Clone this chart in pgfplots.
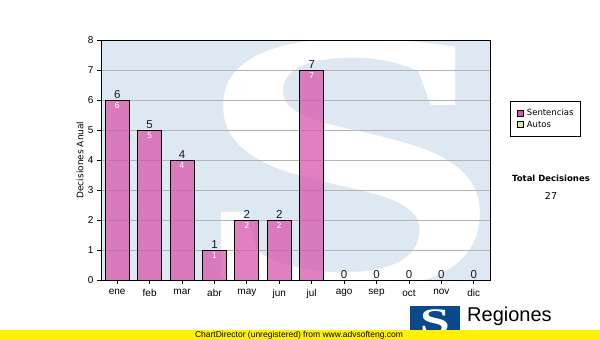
\documentclass[border=0pt]{standalone}
\usepackage{pgfplots}
\pgfplotsset{compat=1.18}
\usepackage{pgfplotstable}
\usepackage{fontspec}
\setmainfont{Liberation Sans}
\newfontfamily\dejavu{DejaVu Sans}
\newfontfamily\serifS{Liberation Serif}
\definecolor{bgblue}{RGB}{222,232,242}
\definecolor{barpink}{RGB}{214,86,171}
\definecolor{autosgreen}{RGB}{216,232,160}
\definecolor{gridgrey}{RGB}{180,180,180}
\definecolor{labcol}{RGB}{25,25,45}
\definecolor{logoblue}{RGB}{12,72,140}

\pgfplotstableread{
x y
0 6
1 5
2 4
3 1
4 2
5 2
6 7
7 0
8 0
9 0
10 0
11 0
}\datatable
\pgfplotstableread{
x y
0 6
1 5
2 4
3 1
4 2
5 2
6 7
}\innertable

\begin{document}
\begin{tikzpicture}
\path[use as bounding box] (0pt,0pt) rectangle (600pt,-340pt);
\begin{scope}
\clip (101pt,-40pt) rectangle (490pt,-280pt);
\fill[bgblue] (101pt,-40pt) rectangle (490pt,-280pt);
\node[white, xscale=1.5, inner sep=0pt] at (348pt,-165pt) {\serifS\bfseries\fontsize{375}{375}\selectfont S};
\end{scope}
\begin{axis}[
  at={(101pt,-280pt)}, anchor=south west,
  scale only axis, width=389pt, height=240pt,
  xmin=-0.5, xmax=11.5, ymin=0, ymax=8,
  xtick={0,...,11},
  xticklabels={ene,feb,mar,abr,may,jun,jul,ago,sep,oct,nov,dic},
  ytick={0,...,8},
  ymajorgrids,
  grid style={draw=gridgrey, line width=0.8pt},
  axis line style={black, line width=0.8pt},
  tick style={black, line width=0.8pt},
  major tick length=4pt, tick align=outside, tick pos=left,
  ticklabel style={font=\fontsize{10}{12}\selectfont},
  xticklabel style={yshift=-2pt},
  /pgf/number format/assume math mode=true,
  ylabel={Decisiones Anual},
  ylabel style={at={(axis description cs:-0.054,0.5)}, anchor=center, font=\dejavu\fontsize{9}{10}\selectfont},
  legend style={at={(axis description cs:1.0514,0.7458)}, anchor=north west, draw=black, line width=0.8pt,
    font=\dejavu\fontsize{8.5}{9.5}\selectfont, inner xsep=4.5pt, inner ysep=5.5pt, row sep=0pt,
    cells={anchor=west}},
  legend image code/.code={\draw[#1, draw=black, line width=0.6pt, fill opacity=1] (2.5pt,-3pt) rectangle (8.5pt,3pt); \path[draw=none, fill=none] (0pt,0pt) -- (10pt,0pt);},
  clip=false,
]
\addplot[ybar, bar width=24pt, draw=black, line width=0.8pt, fill=barpink, fill opacity=0.75] table[x=x,y=y] {\datatable};
\addlegendentry{Sentencias}
\addlegendimage{fill=autosgreen}
\addlegendentry{Autos}
\addplot[forget plot, draw=none, mark=none, nodes near coords,
  nodes near coords style={anchor=south, text=labcol, inner sep=1.5pt, font=\fontsize{11.5}{12}\selectfont}]
  table[x=x,y=y] {\datatable};
\addplot[forget plot, draw=none, mark=none, nodes near coords,
  nodes near coords style={anchor=north, text=white, inner sep=2.5pt, font=\dejavu\fontsize{8}{9}\selectfont}]
  table[x=x,y=y] {\innertable};
\end{axis}
\node[font=\dejavu\bfseries\fontsize{8.5}{10}\selectfont] at (551pt,-178pt) {Total Decisiones};
\node[font=\dejavu\fontsize{9.5}{11}\selectfont] at (551pt,-196pt) {27};
% logo
\fill[logoblue] (410pt,-306pt) rectangle (460pt,-335pt);
\node[white, xscale=1.5, inner sep=0pt] at (435pt,-322pt) {\serifS\bfseries\fontsize{36}{36}\selectfont S};
\node[anchor=west, inner sep=0pt] at (467pt,-316pt) {\fontsize{20}{22}\selectfont Regiones};
\fill[yellow] (0pt,-330pt) rectangle (600pt,-340pt);
\node[font=\fontsize{8.5}{9}\selectfont, inner sep=0pt] at (299pt,-335pt) {ChartDirector (unregistered) from www.advsofteng.com};
\end{tikzpicture}
\end{document}
